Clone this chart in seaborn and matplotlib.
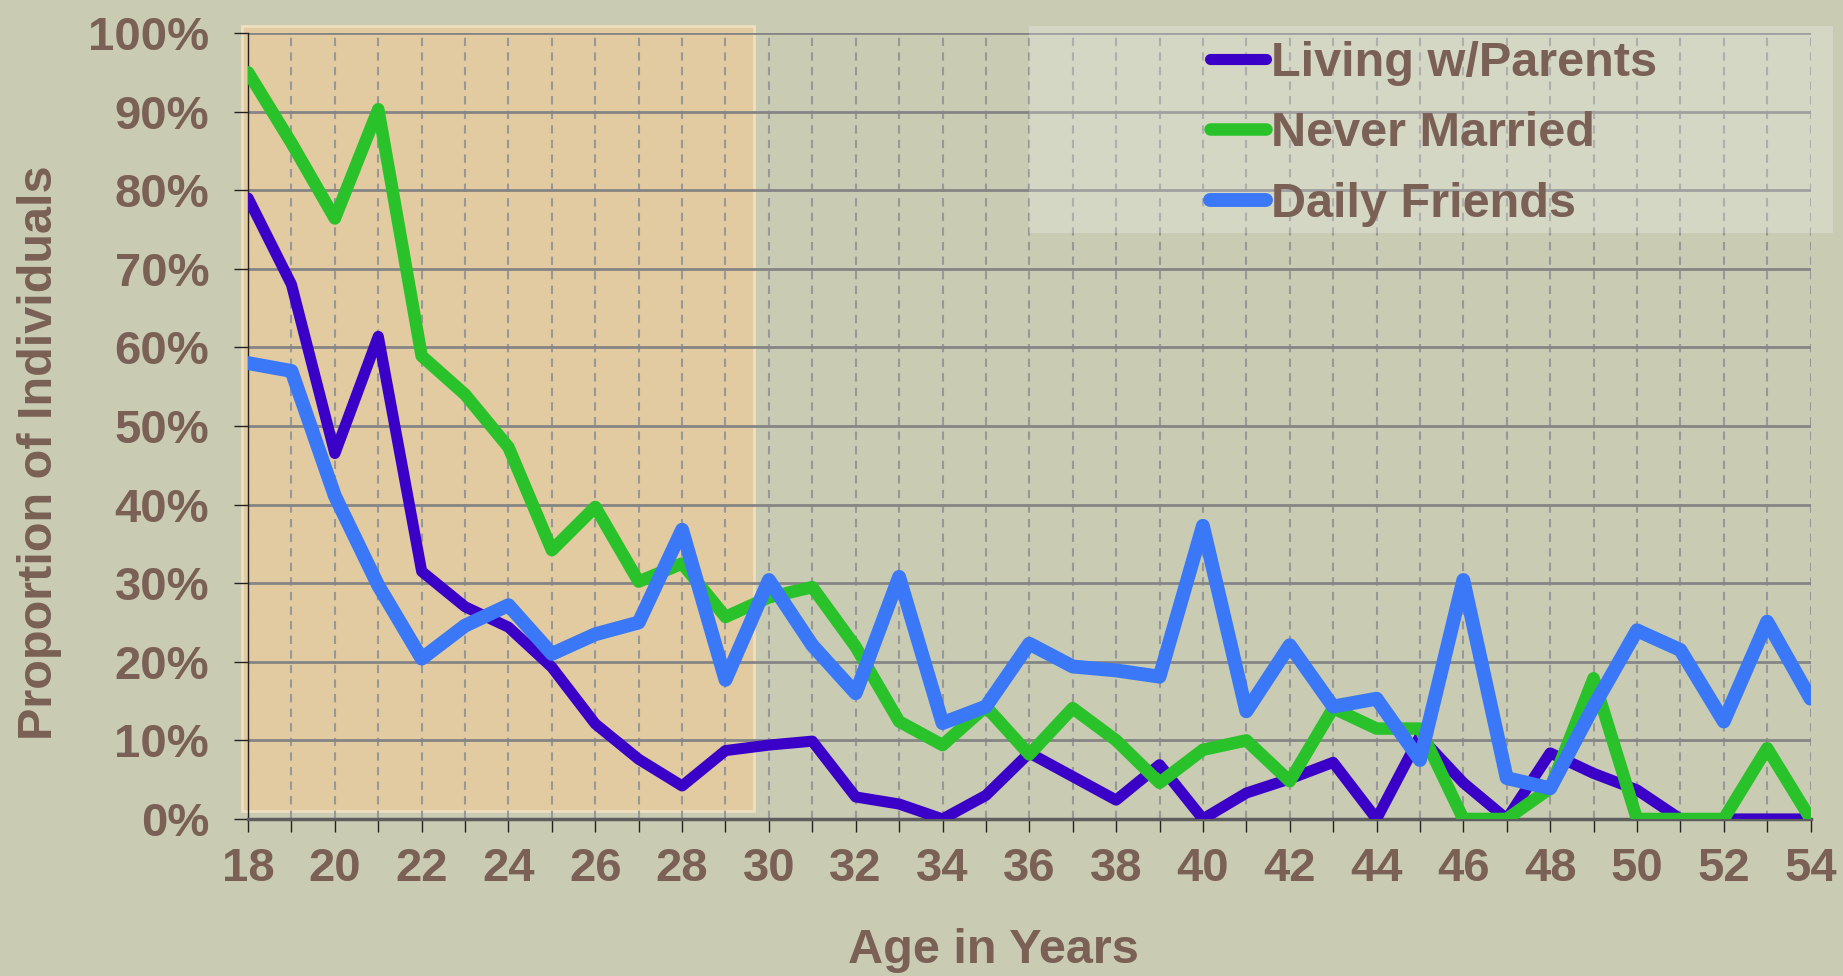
import matplotlib
matplotlib.use("Agg")
import matplotlib.pyplot as plt
import seaborn as sns
from matplotlib.patches import Rectangle
from matplotlib.ticker import MultipleLocator, FuncFormatter

# ages on the x axis, values in percent
ages = list(range(18, 55))
living_parents = [79, 68, 46.5, 61.4, 31.5, 27, 24.4, 19.3, 12.1, 7.6, 4.2, 8.7,
                  9.4, 9.9, 2.8, 1.9, 0, 3, 8.4, 5.4, 2.4, 6.9, 0, 3.3, 5.1, 7.2, 0,
                  10.5, 4.6, 0, 8.4, 5.8, 3.7, 0, 0, 0, 0]
never_married = [95, 86, 76.4, 90.3, 58.9, 54, 47.3, 34.2, 39.7, 30.2, 32.5, 25.7,
                 28.2, 29.5, 21.9, 12.4, 9.4, 14.3, 8.2, 14.1, 10, 4.6, 8.8, 10, 4.8, 14.1, 11.5,
                 11.5, 0, 0, 3.9, 17.9, 0, 0, 0, 9, 0]
daily_friends = [58, 57, 41.1, 29.7, 20.4, 24.6, 27.2, 21, 23.5, 25, 36.8, 17.7,
                 30.4, 22.1, 16, 30.8, 12.2, 14.3, 22.3, 19.4, 18.9, 18.1, 37.3, 13.7, 22.1, 14.3, 15.3,
                 7.5, 30.4, 5.2, 3.9, 14.3, 24, 21.5, 12.4, 25.1, 15.3]

series_names = ["Living w/Parents", "Never Married", "Daily Friends"]
series_colors = ["#3A00C8", "#2AC22A", "#3A78F8"]
series_widths = [8, 9, 10]

bg = "#C9CCB3"
text_col = "#7A6055"

sns.set_theme(style="white")
plt.rcParams['font.family'] = ['Liberation Sans', 'DejaVu Sans']
plt.rcParams['font.weight'] = 'bold'

fig = plt.figure(figsize=(18.43, 9.76), dpi=100, facecolor=bg)
ax = fig.add_axes([0.1346, 0.1609, 0.8478, 0.8053])
ax.set_facecolor(bg)

# shaded young-adult region
shade = Rectangle((17.86, 1.0), 29.66 - 17.86, 100.88 - 1.0, facecolor="#E2CBA0",
                  edgecolor="#EEDFC0", linewidth=2, zorder=0.2, clip_on=False)
ax.add_patch(shade)

for vals, name, col, lw in zip([living_parents, never_married, daily_friends],
                               series_names, series_colors, series_widths):
    sns.lineplot(x=ages, y=vals, ax=ax, color=col, linewidth=lw, label=name,
                 solid_joinstyle="round", solid_capstyle="round", zorder=3)

ax.set_xlim(18, 54)
ax.set_ylim(0, 100)
ax.xaxis.set_major_locator(MultipleLocator(2))
ax.xaxis.set_minor_locator(MultipleLocator(1))
ax.yaxis.set_major_locator(MultipleLocator(10))
ax.yaxis.set_major_formatter(FuncFormatter(lambda v, p: f"{v:.0f}%"))

ax.set_axisbelow(True)
ax.grid(axis="y", which="major", color="#858585", linewidth=2, linestyle="-", zorder=0.5)
ax.grid(axis="x", which="both", color="#989898", linewidth=1.5, linestyle=(0, (4, 3)), zorder=0.5)

for s in ["top", "right"]:
    ax.spines[s].set_visible(False)
ax.spines["left"].set_color("#222222")
ax.spines["left"].set_linewidth(1)
ax.spines["bottom"].set_color("#5E5E5E")
ax.spines["bottom"].set_linewidth(2.5)

ax.tick_params(axis="x", which="both", direction="out", length=9.5, width=1,
               color="#222222", bottom=True)
ax.tick_params(axis="x", which="major", labelsize=34, labelcolor=text_col, pad=11)
ax.tick_params(axis="y", which="major", direction="out", length=10, width=1,
               color="#222222", left=True, labelsize=34, labelcolor=text_col, pad=18)
for lab in ax.get_xticklabels() + ax.get_yticklabels():
    lab.set_fontweight("bold")

ax.set_xlabel("Age in Years", fontsize=35, fontweight="bold", color=text_col)
ax.set_ylabel("Proportion of Individuals", fontsize=35, fontweight="bold", color=text_col)
ax.xaxis.set_label_coords(0.477, -0.139)
ax.yaxis.set_label_coords(-0.119, 0.466)

# legend box (semi-transparent, wider than its content)
ax.add_patch(Rectangle((0.5583, 0.7613), 0.4362, 0.2121, transform=fig.transFigure,
                       facecolor="white", alpha=0.22, edgecolor="none", zorder=4,
                       clip_on=False))
leg = ax.legend(loc="upper left", bbox_to_anchor=(1210 / 1843, 1 - 41 / 976),
                bbox_transform=fig.transFigure, frameon=False, fontsize=35,
                handlelength=1.15, handletextpad=0.1, labelspacing=0.52,
                borderpad=0, borderaxespad=0)
leg.set_zorder(6)
for t in leg.get_texts():
    t.set_color(text_col)
    t.set_fontweight("bold")
for h, lw in zip(leg.get_lines(), series_widths):
    h.set_solid_capstyle("round")
    h.set_linewidth(lw)

fig.savefig("out.png", dpi=100, facecolor=bg)
